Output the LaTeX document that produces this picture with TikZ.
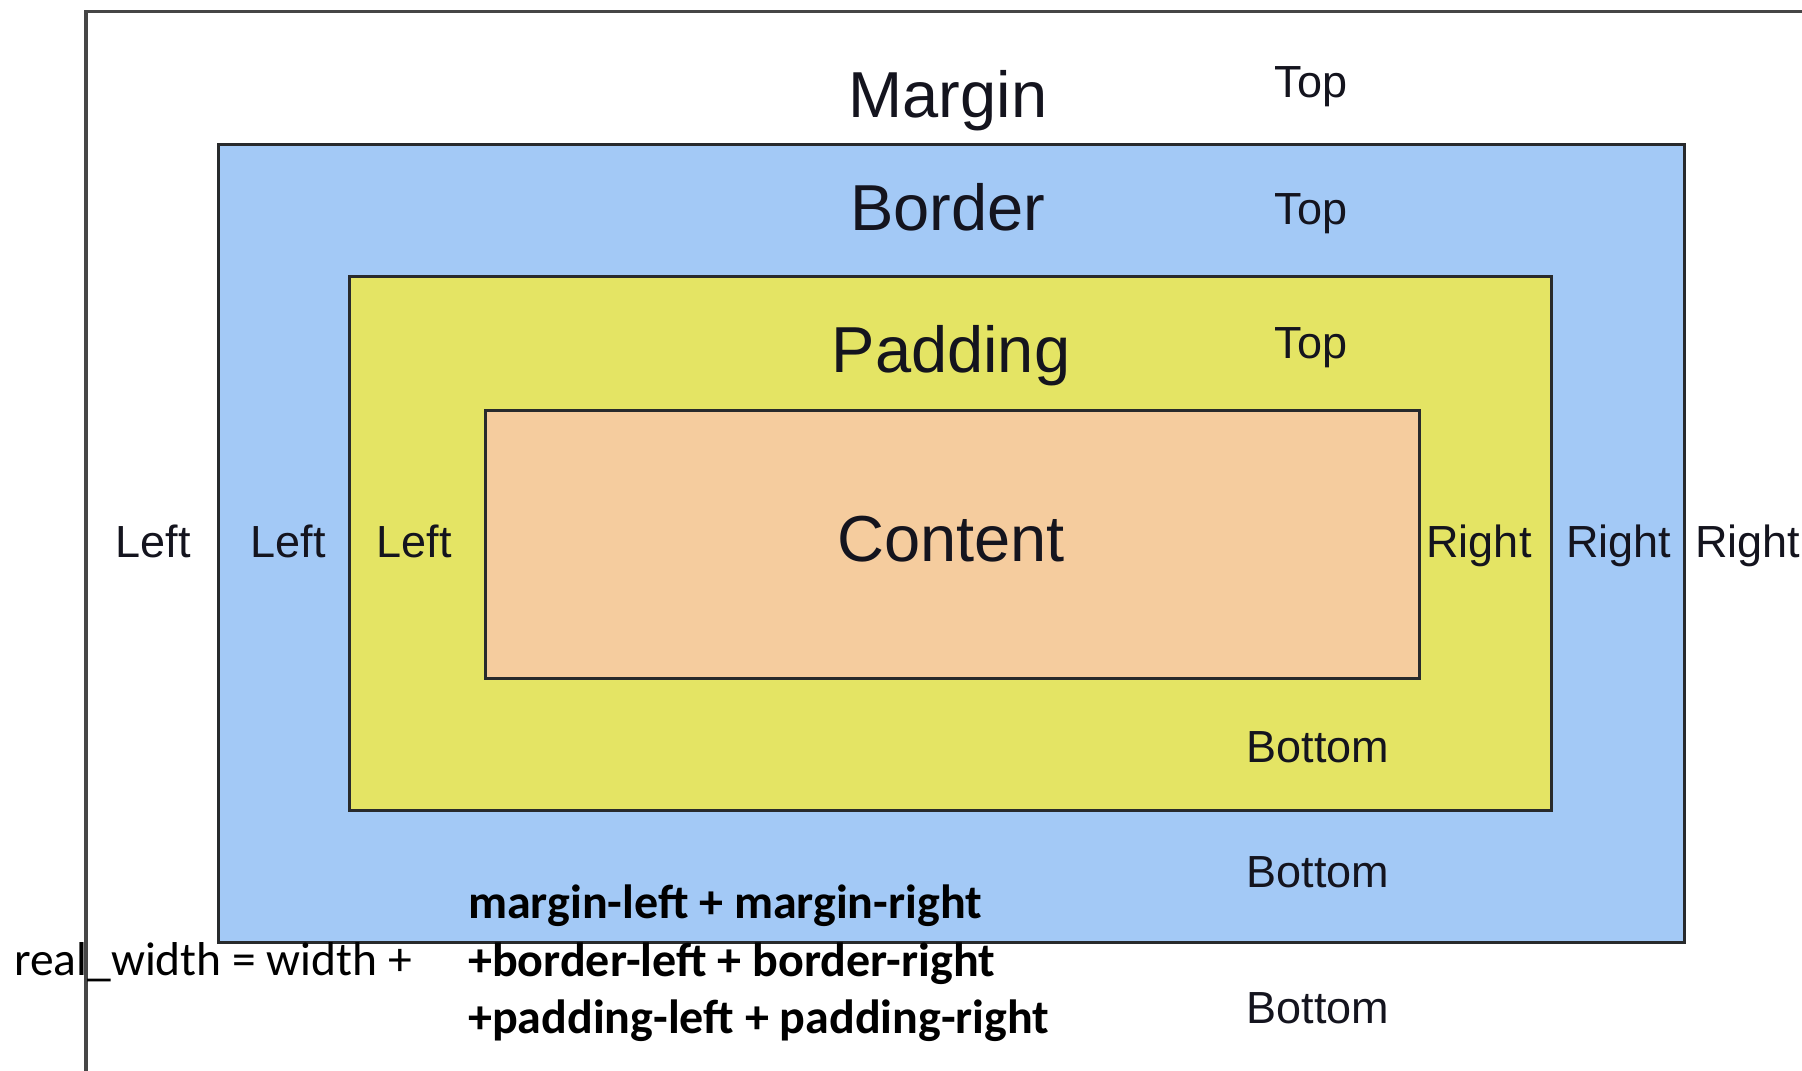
\documentclass[tikz,border=0pt]{standalone}
\usepackage{fontspec}
\setmainfont{Liberation Sans}
\newfontfamily\calibrifont{Carlito}
\definecolor{bluefill}{RGB}{163,201,246}
\definecolor{yellowfill}{RGB}{228,228,100}
\definecolor{peachfill}{RGB}{245,204,158}
\definecolor{edgecol}{RGB}{40,42,44}
\definecolor{framecol}{RGB}{70,70,70}
\definecolor{txtcol}{RGB}{20,20,30}
\begin{document}
\begin{tikzpicture}[x=1pt,y=-1pt,
  boxshape/.style={draw=edgecol,line width=3pt,inner sep=0pt,outer sep=0pt},
  biglabel/.style={anchor=base,inner sep=0pt,text=txtcol,font=\fontsize{65}{70}\selectfont},
  smalllabel/.style={anchor=base,inner sep=0pt,text=txtcol,font=\fontsize{45}{50}\selectfont},
  formula/.style={anchor=base west,inner sep=0pt,text=black,font=\calibrifont\fontsize{47.5}{52}\selectfont},
  formulabold/.style={formula,font=\calibrifont\bfseries\fontsize{48}{52}\selectfont}]
\useasboundingbox (0,0) rectangle (1802,1071);
\clip (0,0) rectangle (1802,1071);
\fill[white] (0,0) rectangle (1802,1071);
% outer margin frame (right and bottom edges lie beyond the picture)
\node[boxshape,draw=framecol,line width=3.5pt,minimum width=1760pt,minimum height=1100pt,anchor=north west] (marginbox) at (86,11.5) {};
% boxes
\node[boxshape,fill=bluefill,minimum width=1466pt,minimum height=798pt] (borderbox) at (951,543) {};
\node[boxshape,fill=yellowfill,minimum width=1202pt,minimum height=534pt] (paddingbox) at (950,543) {};
\node[boxshape,fill=peachfill,minimum width=934pt,minimum height=268pt] (contentbox) at (952,544) {};
% big labels
\node[biglabel] (tmargin) at (948,117) {Margin};
\node[biglabel] (tborder) at (948,230) {Border};
\node[biglabel] (tpadding) at (951,372) {Padding};
\node[biglabel] (tcontent) at (951,561) {Content};
% top labels
\node[smalllabel] (top1) at (1311,97) {Top};
\node[smalllabel] (top2) at (1311,224) {Top};
\node[smalllabel] (top3) at (1311,358) {Top};
% left labels
\node[smalllabel] (left1) at (153,557) {Left};
\node[smalllabel] (left2) at (288,557) {Left};
\node[smalllabel] (left3) at (414,557) {Left};
% right labels
\node[smalllabel] (right1) at (1479,557) {Right};
\node[smalllabel,anchor=base west] (right2) at (1566,557) {Right};
\node[smalllabel,anchor=base west] (right3) at (1695,557) {Right};
% bottom labels
\node[smalllabel] (bottom1) at (1318,762) {Bottom};
\node[smalllabel] (bottom2) at (1318,887) {Bottom};
\node[smalllabel] (bottom3) at (1318,1023) {Bottom};
% formula
\node[formula] (realwidth) at (14,975) {real\_width = width +};
\node[formulabold] (fline1) at (468,918) {margin-left + margin-right};
\node[formulabold] (fline2) at (468,976) {+border-left + border-right};
\node[formulabold] (fline3) at (468,1033) {+padding-left + padding-right};
\end{tikzpicture}
\end{document}
